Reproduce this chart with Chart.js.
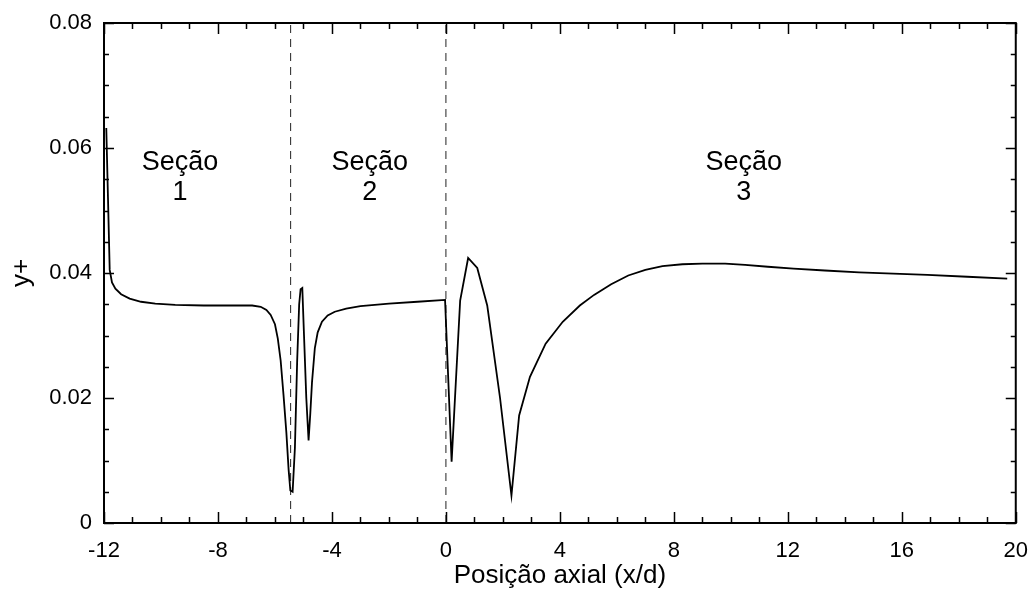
<!DOCTYPE html>
<html>
<head>
<meta charset="utf-8">
<script src="https://cdn.jsdelivr.net/npm/chart.js@4.4.0/dist/chart.umd.min.js"></script>
<style>
  html, body { margin: 0; padding: 0; background: #fff; }
</style>
</head>
<body>
<canvas id="chart" width="1035" height="591"></canvas>
<script>
// y+ along the axial position
const posX = [
  -11.92, -11.86, -11.8, -11.72, -11.6, -11.4, -11.1, -10.7, -10.2, -9.5,
  -8.5, -7.5, -6.8, -6.5, -6.3, -6.15, -6.0, -5.9, -5.8, -5.7,
  -5.6, -5.52, -5.46, -5.38, -5.3, -5.22, -5.15, -5.1, -5.04, -4.98,
  -4.9, -4.82, -4.76, -4.7, -4.6, -4.5, -4.35, -4.15, -3.9, -3.5,
  -3.0, -2.0, -1.0, -0.03, 0.2, 0.5, 0.78, 1.1, 1.45, 1.9,
  2.3, 2.57, 2.95, 3.5, 4.1, 4.7, 5.2, 5.8, 6.4, 7.0,
  7.6, 8.3, 9.0, 9.8, 10.5, 11.3, 12.2, 13.3, 14.5, 15.7,
  16.9, 18.3, 19.7
];
const yPlus = [
  0.0632, 0.052, 0.0405, 0.0385, 0.0375, 0.0366, 0.0359, 0.0354, 0.0351, 0.0349,
  0.0348, 0.0348, 0.0348, 0.0346, 0.0341, 0.0333, 0.0318, 0.0295, 0.026, 0.0205,
  0.0145, 0.0085, 0.0052, 0.005, 0.012, 0.026, 0.035, 0.0374, 0.0376, 0.030,
  0.020, 0.0132, 0.0175, 0.0225, 0.028, 0.0305, 0.0322, 0.0332, 0.0338, 0.0343,
  0.0347, 0.0351, 0.0354, 0.0357, 0.0098, 0.0356, 0.0424, 0.0408, 0.0348, 0.020,
  0.0044, 0.0172, 0.0234, 0.0287, 0.0322, 0.0348, 0.0365, 0.0382, 0.0396, 0.0405,
  0.0411, 0.0414, 0.0415, 0.0415, 0.0413, 0.041, 0.0407, 0.0404, 0.0401, 0.0399,
  0.0397, 0.0394, 0.0391
];

// section boundaries (dashed lines) and section labels
const sectionBounds = [-5.45, 0];
const sectionNames = ['Seção', 'Seção', 'Seção'];
const sectionNums = ['1', '2', '3'];
const sectionLabelX = [-9.33, -2.67, 10.45];
const sectionLabelY = [0.0576, 0.0576, 0.0576];

const xTicks = [-12, -8, -4, 0, 4, 8, 12, 16, 20];
const yTicks = [0, 0.02, 0.04, 0.06, 0.08];

const FONT = "'Liberation Sans', Arial, sans-serif";

const curve = posX.map((x, i) => ({ x: x, y: yPlus[i] }));

const boundSets = sectionBounds.map(b => ({
  data: [{ x: b, y: yTicks[0] }, { x: b, y: yTicks[yTicks.length - 1] }],
  borderColor: '#222',
  borderWidth: 1,
  borderDash: [8, 6],
  pointRadius: 0,
  fill: false
}));

// frame with inward ticks on all four sides, plus the section labels
const framePlugin = {
  id: 'frame',
  afterDatasetsDraw(chart) {
    const ctx = chart.ctx;
    const a = chart.chartArea;
    const xs = chart.scales.x;
    const ys = chart.scales.y;
    ctx.save();
    ctx.strokeStyle = '#000';
    ctx.lineWidth = 1.5;
    ctx.beginPath();
    for (let v = xTicks[0]; v <= xTicks[xTicks.length - 1] + 1e-9; v += 1) {
      const px = Math.round(xs.getPixelForValue(v)) + 0.5;
      const len = (v % 4 === 0) ? 11 : 6;
      ctx.moveTo(px, a.bottom); ctx.lineTo(px, a.bottom - len);
      ctx.moveTo(px, a.top); ctx.lineTo(px, a.top + len);
    }
    for (let k = 0; k <= 16; k++) {
      const v = k * 0.005;
      const py = Math.round(ys.getPixelForValue(v)) + 0.5;
      const len = (k % 4 === 0) ? 10 : 5;
      ctx.moveTo(a.left, py); ctx.lineTo(a.left + len, py);
      ctx.moveTo(a.right, py); ctx.lineTo(a.right - len, py);
    }
    ctx.stroke();
    ctx.lineWidth = 2;
    ctx.strokeRect(a.left, a.top, a.right - a.left, a.bottom - a.top);

    ctx.fillStyle = '#000';
    ctx.font = '27px ' + FONT;
    ctx.textAlign = 'center';
    ctx.textBaseline = 'middle';
    sectionLabelX.forEach((lx, i) => {
      const px = xs.getPixelForValue(lx);
      const py = ys.getPixelForValue(sectionLabelY[i]);
      ctx.fillText(sectionNames[i], px, py);
      ctx.fillText(sectionNums[i], px, py + 30);
    });
    ctx.restore();
  }
};

new Chart(document.getElementById('chart'), {
  type: 'line',
  data: {
    datasets: [{
      data: curve,
      borderColor: '#000',
      borderWidth: 1.8,
      pointRadius: 0,
      tension: 0,
      fill: false
    }, ...boundSets]
  },
  options: {
    responsive: false,
    animation: false,
    layout: { padding: { top: 23, right: 10, left: 0, bottom: 0 } },
    plugins: { legend: { display: false }, tooltip: { enabled: false } },
    scales: {
      x: {
        type: 'linear',
        min: -12,
        max: 20,
        grid: { display: false },
        border: { display: false },
        afterFit(scale) { scale.height = 68; },
        afterBuildTicks(scale) { scale.ticks = xTicks.map(v => ({ value: v })); },
        ticks: {
          color: '#000',
          padding: 7,
          maxRotation: 0,
          font: { family: FONT, size: 22 }
        },
        title: {
          display: true,
          text: 'Posição axial (x/d)',
          color: '#000',
          padding: { top: 0, bottom: 0 },
          font: { family: FONT, size: 26 }
        }
      },
      y: {
        type: 'linear',
        min: 0,
        max: 0.08,
        grid: { display: false },
        border: { display: false },
        afterFit(scale) { scale.width = 104; },
        afterBuildTicks(scale) { scale.ticks = yTicks.map(v => ({ value: v })); },
        ticks: {
          color: '#000',
          padding: 4,
          font: { family: FONT, size: 22 },
          callback: v => v === 0 ? '0' : v.toFixed(2)
        },
        title: {
          display: true,
          text: 'y+',
          color: '#000',
          padding: { top: 6, bottom: 0 },
          font: { family: FONT, size: 26 }
        }
      }
    }
  },
  plugins: [framePlugin]
});
</script>
</body>
</html>
